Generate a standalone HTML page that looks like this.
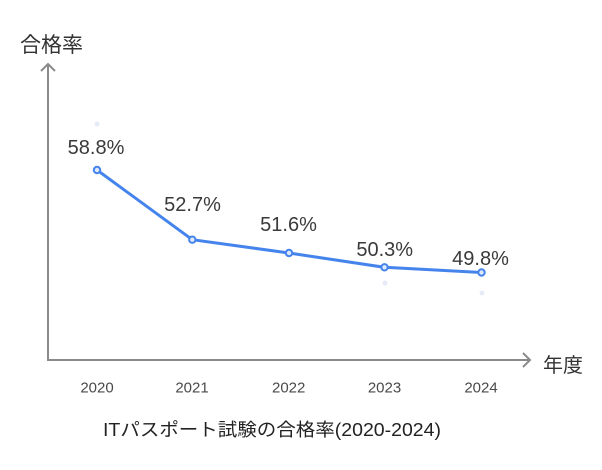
<!DOCTYPE html>
<html>
<head>
<meta charset="utf-8">
<style>
  html, body { margin: 0; padding: 0; background: #ffffff; }
  body { width: 602px; height: 470px; overflow: hidden; }
  svg { display: block; }
  text { font-family: "Liberation Sans", "Noto Sans CJK JP", sans-serif; }
</style>
</head>
<body>
<svg width="602" height="470" viewBox="0 0 602 470" xmlns="http://www.w3.org/2000/svg">
  <rect width="602" height="470" fill="#ffffff"/>

  <!-- axes -->
  <line x1="48" y1="64" x2="48" y2="361" stroke="#8a8a8a" stroke-width="2"/>
  <line x1="47" y1="360" x2="530" y2="360" stroke="#8a8a8a" stroke-width="2"/>
  <polyline points="41,71 48,64 55,71" fill="none" stroke="#8a8a8a" stroke-width="2"/>
  <polyline points="523,353 530,360 523,367" fill="none" stroke="#8a8a8a" stroke-width="2"/>

  <!-- axis titles -->
  <text x="20" y="52" font-size="21" fill="#333333">合格率</text>
  <text x="543" y="372" font-size="20" fill="#333333">年度</text>

  <!-- faint dots -->
  <circle cx="97" cy="124" r="2.5" fill="#e6ecf6"/>
  <circle cx="385" cy="283" r="2.5" fill="#e6ecf6"/>
  <circle cx="482" cy="293" r="2.5" fill="#e6ecf6"/>

  <!-- series line -->
  <polyline points="97,170 192.3,239.7 289,253 384.5,267.3 481.5,272.5" fill="none" stroke="#4584ec" stroke-width="3" stroke-linejoin="round" stroke-linecap="round"/>
  <g fill="#dfe9fb" stroke="#4584ec" stroke-width="2">
    <circle cx="97" cy="170" r="3.2"/>
    <circle cx="192.3" cy="239.7" r="3.2"/>
    <circle cx="289" cy="253" r="3.2"/>
    <circle cx="384.5" cy="267.3" r="3.2"/>
    <circle cx="481.5" cy="272.5" r="3.2"/>
  </g>

  <!-- data labels -->
  <g font-size="20" fill="#3a3a3a" text-anchor="middle">
    <text x="96" y="154">58.8%</text>
    <text x="192.5" y="211">52.7%</text>
    <text x="288.5" y="231">51.6%</text>
    <text x="384.7" y="256">50.3%</text>
    <text x="480.5" y="265">49.8%</text>
  </g>

  <!-- year labels -->
  <g font-size="15" fill="#4a4a4a" text-anchor="middle">
    <text x="97" y="392.5">2020</text>
    <text x="192" y="392.5">2021</text>
    <text x="288.7" y="392.5">2022</text>
    <text x="384.5" y="392.5">2023</text>
    <text x="481" y="392.5">2024</text>
  </g>

  <!-- chart title -->
  <text x="103" y="436" font-size="18" fill="#222222" textLength="338" lengthAdjust="spacingAndGlyphs">ITパスポート試験の合格率(2020-2024)</text>
</svg>
</body>
</html>
